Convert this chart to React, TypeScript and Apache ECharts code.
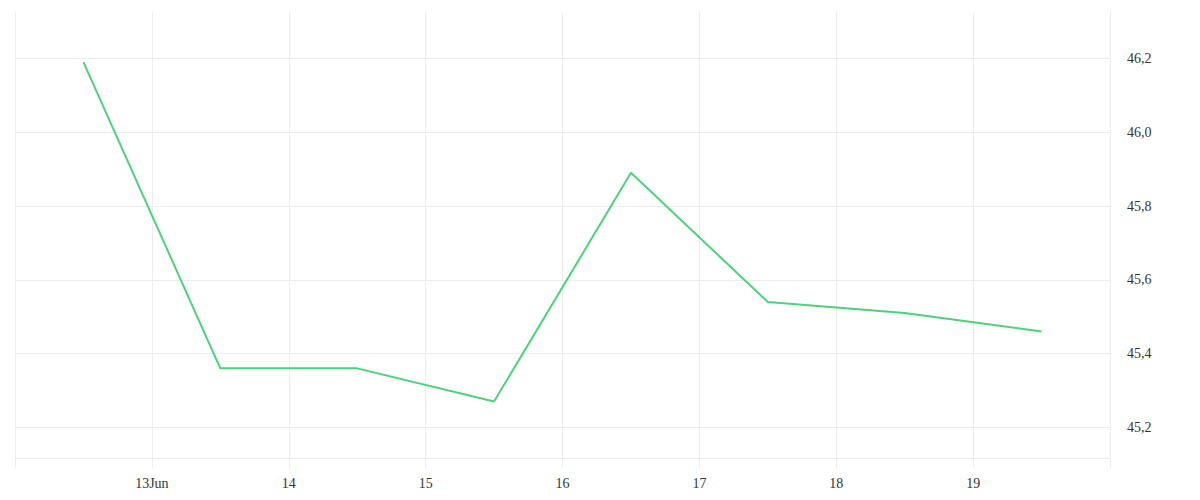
import React, { useEffect, useRef } from "react";
import * as echarts from "echarts";

const dates: string[] = [
  "2023-06-12T12:00:00",
  "2023-06-13T12:00:00",
  "2023-06-14T12:00:00",
  "2023-06-15T12:00:00",
  "2023-06-16T12:00:00",
  "2023-06-17T12:00:00",
  "2023-06-18T12:00:00",
  "2023-06-19T12:00:00",
];
const values: number[] = [46.19, 45.36, 45.36, 45.27, 45.89, 45.54, 45.51, 45.46];
const yTicks: number[] = [45.2, 45.4, 45.6, 45.8, 46.0, 46.2];
const xTickDays: string[] = [
  "2023-06-12", "2023-06-13", "2023-06-14", "2023-06-15", "2023-06-16",
  "2023-06-17", "2023-06-18", "2023-06-19", "2023-06-20",
];
const xLabelDays: string[] = [
  "2023-06-13", "2023-06-14", "2023-06-15", "2023-06-16",
  "2023-06-17", "2023-06-18", "2023-06-19",
];
const monthNames: string[] = ["Jan", "Feb", "Mar", "Apr", "May", "Jun", "Jul", "Aug", "Sep", "Oct", "Nov", "Dec"];

const ts = (s: string) => new Date(s.length === 10 ? s + "T00:00:00" : s).getTime();

export default function App() {
  const ref = useRef<HTMLDivElement>(null);
  useEffect(() => {
    if (!ref.current) return;
    const chart = echarts.init(ref.current, undefined, { renderer: "svg" });
    const grid = "#ececec";
    const font = "'Liberation Serif', serif";
    const firstLabel = ts(xLabelDays[0]);
    chart.setOption({
      animation: false,
      backgroundColor: "#fff",
      grid: { left: 15, right: 90, top: 12, bottom: 42, containLabel: false },
      xAxis: {
        type: "value",
        min: ts(xTickDays[0]),
        max: ts(xTickDays[xTickDays.length - 1]),
        axisLine: { show: true, lineStyle: { color: grid, width: 1 } },
        axisTick: {
          show: true,
          length: 10,
          lineStyle: { color: grid },
          customValues: xTickDays.map(ts),
        },
        splitLine: { show: true, lineStyle: { color: grid, width: 1 } },
        axisLabel: {
          customValues: xLabelDays.map(ts),
          color: "#333",
          fontFamily: font,
          fontSize: 14,
          margin: 18,
          formatter: (v: number) => {
            const d = new Date(v);
            return Math.abs(v - firstLabel) < 1000
              ? d.getDate() + monthNames[d.getMonth()]
              : String(d.getDate());
          },
        },
      },
      yAxis: {
        type: "value",
        position: "right",
        min: 45.117,
        max: 46.326,
        axisLine: { show: true, lineStyle: { color: grid } },
        axisTick: { show: false, customValues: yTicks },
        splitLine: { show: true, lineStyle: { color: grid } },
        axisLabel: {
          customValues: yTicks,
          color: "#333",
          fontFamily: font,
          fontSize: 14,
          margin: 17,
          formatter: (v: number) => v.toFixed(1).replace(".", ","),
        },
      },
      series: [
        {
          type: "line",
          data: dates.map((d, i) => [ts(d), values[i]]),
          showSymbol: false,
          lineStyle: { color: "#4cd27c", width: 2 },
          itemStyle: { color: "#4cd27c" },
        },
      ],
    });
    return () => chart.dispose();
  }, []);
  return (
    <div
      ref={ref}
      style={{ position: "absolute", left: 0, top: 0, width: 1200, height: 500 }}
    />
  );
}
